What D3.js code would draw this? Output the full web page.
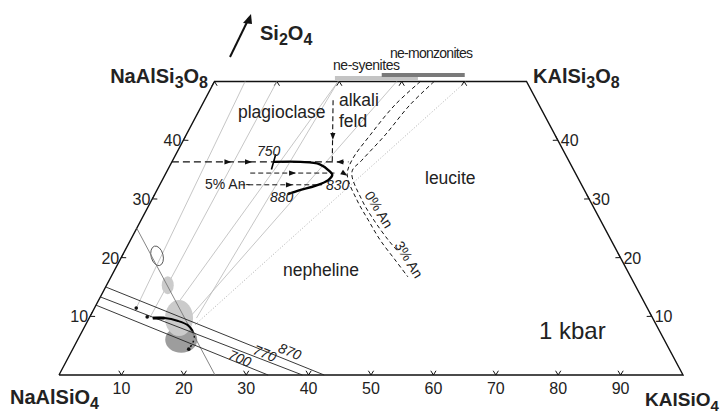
<!DOCTYPE html>
<html>
<head>
<meta charset="utf-8">
<script src="https://cdn.jsdelivr.net/npm/d3@7"></script>
<style>
  body { margin: 0; background: #fff; }
  text { font-family: "Liberation Sans", Arial, sans-serif; fill: #222; }
</style>
</head>
<body>
<div id="chart"></div>
<script>
// values are ternary percents: k = KAlSiO4 along the base, s = Si2O4 up the sides
const baseTicks = [10, 20, 30, 40, 50, 60, 70, 80, 90];
const sideTicks = [10, 20, 30, 40];
const topTicks = [0, 10, 20, 30, 40];

// grey tie lines (top edge -> nepheline side)
const tieLines = [
  [[4.9, 50], [6.7, 11.4]],
  [[10, 50], [9.7, 9.7]],
  [[19.8, 50], [12.5, 9.7]],
  [[19.8, 50], [17.2, 9.7]],
  [[29.2, 50], [16.0, 9.7]]
];
const dottedLines = [
  [[40.3, 50], [17.5, 8.5]]
];
const joinLine = [[0, 25], [25, 0]];

// isotherms
const isotherms = [
  { label: "870", pts: [[0, 15.0], [42.5, 0]] },
  { label: "770", pts: [[0, 13.3], [39.0, 0]] },
  { label: "700", pts: [[0, 11.9], [33.5, 0]] }
];

// cotectic path, 5% An horizontal dashes
const dashMain = [[0, 36.3], [28.3, 36.3]];
const dashDown = [[20.6, 46.8], [25.7, 36.3]];
const dash2 = [[13.5, 34.4], [27.0, 34.4]];
const dash3 = [[12.9, 32.4], [26.0, 32.4]];

// heavy temperature path 750 -> 830 -> 880
const heavyPath = [[16.3, 36.3], [20.6, 36.3], [23.9, 35.9], [26.1, 34.7], [26.8, 34.1],
  [26.6, 33.2], [25.0, 32.2], [22.9, 31.5], [21.3, 30.8]];

// feldspar-leucite field boundaries
const boundary0 = [[33.0, 50], [30.9, 46.0], [29.5, 40.9], [28.7, 36.6], [29.2, 34.1],
  [32.9, 29.8], [36.4, 26.4], [40.0, 23.0], [44.1, 19.6], [47.6, 16.7]];
const boundary3 = [[35.2, 50], [33.3, 46.0], [31.9, 40.9], [30.3, 36.6], [29.7, 34.6],
  [33.7, 29.8], [37.3, 26.4], [41.3, 23.0], [43.9, 21.0]];

// arrows: [from, to]
const arrows = [
  [[8.0, 36.3], [8.9, 36.3]],
  [[11.3, 36.3], [12.2, 36.3]],
  [[27.9, 36.3], [27.0, 36.3]],
  [[23.2, 41.5], [23.6, 40.7]],
  [[19.3, 34.4], [20.2, 34.4]],
  [[19.8, 32.4], [20.7, 32.4]],
  [[27.6, 34.8], [28.6, 34.3]]
];

// lower path and points
const lowerPath = [[10.2, 9.7], [12.1, 9.7], [14.5, 9.2], [16.4, 8.5], [17.7, 7.5]];
const lowerDots = [[18.4, 6.6], [18.7, 5.5], [18.6, 4.4]];
const points = [[6.7, 11.4], [9.2, 9.9], [18.6, 4.4]];

// compositional fields (grey blobs), centre in k/s
const blobs = [
  { c: [16.6, 6.0], rx: 16, ry: 13, fill: "#9d9d9d" },
  { c: [14.4, 9.7], rx: 14, ry: 18, fill: "#cbcbcb" },
  { c: [9.8, 15.3], rx: 6, ry: 9, fill: "#cbcbcb" }
];
const ellipse = { c: [5.6, 20.3], rx: 6, ry: 10 };

// rock type bars on the top edge
const rockBars = [
  { label: "ne-syenites", range: [19.3, 32.6], fill: "#c4c4c4", dy: 3 },
  { label: "ne-monzonites", range: [26.8, 40.1], fill: "#7a7a7a", dy: 6 }
];

const width = 727, height = 413;
const svg = d3.select("#chart").append("svg")
  .attr("width", width).attr("height", height);

// ternary scales
const xK = d3.scaleLinear().domain([0, 100]).range([59, 683]);
const xS = d3.scaleLinear().domain([0, 100]).range([0, 311]);
const yS = d3.scaleLinear().domain([0, 100]).range([375, -212]);
const P = d => [xK(d[0]) + xS(d[1]), yS(d[1])];

const line = d3.line().x(d => P(d)[0]).y(d => P(d)[1]);
const curve = d3.line().x(d => P(d)[0]).y(d => P(d)[1]).curve(d3.curveCatmullRom);

// outline
svg.append("path")
  .attr("d", line([[0, 0], [100, 0], [50, 50], [0, 50], [0, 0]]))
  .attr("fill", "none").attr("stroke", "#111").attr("stroke-width", 1.4);

// chevron ticks pointing outward
function chevron(pt, ang) {
  const [x, y] = P(pt);
  const a = ang * Math.PI / 180, L = 5, w = 0.55;
  const p1 = [x + L * Math.cos(a + w), y + L * Math.sin(a + w)];
  const p2 = [x + L * Math.cos(a - w), y + L * Math.sin(a - w)];
  return `M${p1}L${x},${y}L${p2}`;
}
const tickG = svg.append("g").attr("fill", "none").attr("stroke", "#111").attr("stroke-width", 1);
baseTicks.forEach(k => tickG.append("path").attr("d", chevron([k, 0], -90)));
sideTicks.forEach(s => {
  tickG.append("path").attr("d", chevron([0, s], -30));
  tickG.append("path").attr("d", chevron([100 - s, s], 210));
});
topTicks.forEach(k => tickG.append("path").attr("d", chevron([k, 50], 90)));

// tick labels
baseTicks.forEach(k => svg.append("text").attr("x", P([k, 0])[0]).attr("y", 394)
  .attr("text-anchor", "middle").style("font-size", "16px").text(k));
sideTicks.forEach(s => {
  const l = P([0, s]), r = P([100 - s, s]);
  svg.append("text").attr("x", l[0] - 2).attr("y", l[1] + 6)
    .attr("text-anchor", "end").style("font-size", "16px").text(s);
  svg.append("text").attr("x", r[0] + 3).attr("y", r[1] + 6)
    .style("font-size", "16px").text(s);
});

// grey ties
tieLines.forEach(t => svg.append("path").attr("d", line(t))
  .attr("stroke", "#b8b8b8").attr("stroke-width", 0.8).attr("fill", "none"));
dottedLines.forEach(t => svg.append("path").attr("d", line(t))
  .attr("stroke", "#999").attr("stroke-width", 0.8).attr("stroke-dasharray", "1,2").attr("fill", "none"));

// blobs
blobs.forEach(b => svg.append("ellipse")
  .attr("cx", P(b.c)[0]).attr("cy", P(b.c)[1]).attr("rx", b.rx).attr("ry", b.ry)
  .attr("fill", b.fill));
svg.append("ellipse")
  .attr("transform", `translate(${P(ellipse.c)}) rotate(-15)`)
  .attr("rx", ellipse.rx).attr("ry", ellipse.ry)
  .attr("fill", "none").attr("stroke", "#555").attr("stroke-width", 0.9);

svg.append("path").attr("d", line(joinLine))
  .attr("stroke", "#777").attr("stroke-width", 0.9).attr("fill", "none");

// isotherms
isotherms.forEach(iso => {
  svg.append("path").attr("d", line(iso.pts))
    .attr("stroke", "#222").attr("stroke-width", 0.9).attr("fill", "none");
});
const isoLabelPos = [[288, 356], [263, 358], [238, 363]];
isotherms.forEach((iso, i) => {
  const [a, b] = iso.pts.map(P);
  const ang = Math.atan2(b[1] - a[1], b[0] - a[0]) * 180 / Math.PI;
  svg.append("text")
    .attr("transform", `translate(${isoLabelPos[i]}) rotate(${ang})`)
    .attr("text-anchor", "middle").style("font-size", "14px").style("font-style", "italic")
    .text(iso.label);
});

// dashed paths
const dashed = (pts, dash, w) => svg.append("path").attr("d", line(pts))
  .attr("fill", "none").attr("stroke", "#111").attr("stroke-width", w).attr("stroke-dasharray", dash);
dashed(dashMain, "7,4", 1.3);
dashed(dashDown, "5,3", 1.1);
dashed(dash2, "5,3", 1);
dashed(dash3, "5,3", 1);
[boundary0, boundary3].forEach(b => svg.append("path").attr("d", curve(b))
  .attr("fill", "none").attr("stroke", "#111").attr("stroke-width", 1).attr("stroke-dasharray", "4,3"));

// heavy paths
svg.append("path").attr("d", curve(heavyPath))
  .attr("fill", "none").attr("stroke", "#000").attr("stroke-width", 2.4);
svg.append("path").attr("d", line([[heavyPath[0][0] + 0.3, heavyPath[0][1] - 1.3], [heavyPath[0][0] - 0.3, heavyPath[0][1] + 1.3]]))
  .attr("stroke", "#000").attr("stroke-width", 1.6);
svg.append("path").attr("d", curve(lowerPath))
  .attr("fill", "none").attr("stroke", "#000").attr("stroke-width", 2);
svg.append("path").attr("d", line(lowerPath.slice(0, 2)))
  .attr("fill", "none").attr("stroke", "#000").attr("stroke-width", 3);
svg.append("path").attr("d", curve([lowerPath[4]].concat(lowerDots)))
  .attr("fill", "none").attr("stroke", "#111").attr("stroke-width", 1.5).attr("stroke-dasharray", "2,3");
points.forEach(p => svg.append("circle").attr("cx", P(p)[0]).attr("cy", P(p)[1]).attr("r", 1.8).attr("fill", "#111"));

// arrowheads
arrows.forEach(([a, b]) => {
  const pa = P(a), pb = P(b);
  const ang = Math.atan2(pb[1] - pa[1], pb[0] - pa[0]) * 180 / Math.PI;
  svg.append("path").attr("d", "M4,0L-3,-2.6L-3,2.6Z")
    .attr("transform", `translate(${pb}) rotate(${ang})`).attr("fill", "#111");
});

// rock bars
rockBars.forEach(r => {
  const a = P([r.range[0], 50]), b = P([r.range[1], 50]);
  svg.append("rect").attr("x", a[0]).attr("y", a[1] - r.dy - 2.5)
    .attr("width", b[0] - a[0]).attr("height", 4).attr("fill", r.fill);
});
svg.append("text").attr("x", 333).attr("y", 70).style("font-size", "14px").attr("textLength", 67).text("ne-syenites");
svg.append("text").attr("x", 390).attr("y", 58).style("font-size", "14px").attr("textLength", 83).text("ne-monzonites");

// corner labels
function formula(x, y, parts, anchor, size) {
  const t = svg.append("text").attr("x", x).attr("y", y).attr("text-anchor", anchor)
    .style("font-size", size + "px").style("font-weight", "bold");
  parts.forEach(([s, sub], i) => {
    const ts = t.append("tspan").text(s);
    if (sub) ts.attr("dy", 5).style("font-size", (size - 4) + "px");
    else if (i > 0) ts.attr("dy", -5);
  });
}
formula(208, 83, [["NaAlSi"], ["3", 1], ["O"], ["8", 1]], "end", 20);
formula(533, 83, [["KAlSi"], ["3", 1], ["O"], ["8", 1]], "start", 20);
formula(10, 404, [["NaAlSiO"], ["4", 1]], "start", 20);
formula(645, 406, [["KAlSiO"], ["4", 1]], "start", 19);
formula(260, 40, [["Si"], ["2", 1], ["O"], ["4", 1]], "start", 20);

// Si2O4 arrow
svg.append("path").attr("d", "M230,57L249,18").attr("stroke", "#111").attr("stroke-width", 2);
svg.append("path").attr("d", "M251,14L243,23L252,24Z").attr("fill", "#111");

// field labels
const lab = (x, y, t, size, extra) => {
  const e = svg.append("text").attr("x", x).attr("y", y).style("font-size", size + "px").text(t);
  if (extra) extra(e);
  return e;
};
lab(238, 118, "plagioclase", 17.5);
lab(339, 106, "alkali", 17.5);
lab(339, 127, "feld", 17.5);
lab(425, 184, "leucite", 17.5);
lab(283, 276, "nepheline", 17.5);
lab(539, 339, "1 kbar", 24);
lab(205, 189, "5% An-", 14);
lab(257, 156, "750", 14, e => e.style("font-style", "italic"));
lab(270, 202, "880", 14, e => e.style("font-style", "italic"));
lab(326, 190, "830", 14, e => e.style("font-style", "italic"));
lab(0, 0, "0% An", 14, e => e.attr("transform", "translate(364,195) rotate(58)"));
lab(0, 0, "3% An", 14, e => e.attr("transform", "translate(394,245) rotate(58)"));
</script>
</body>
</html>
